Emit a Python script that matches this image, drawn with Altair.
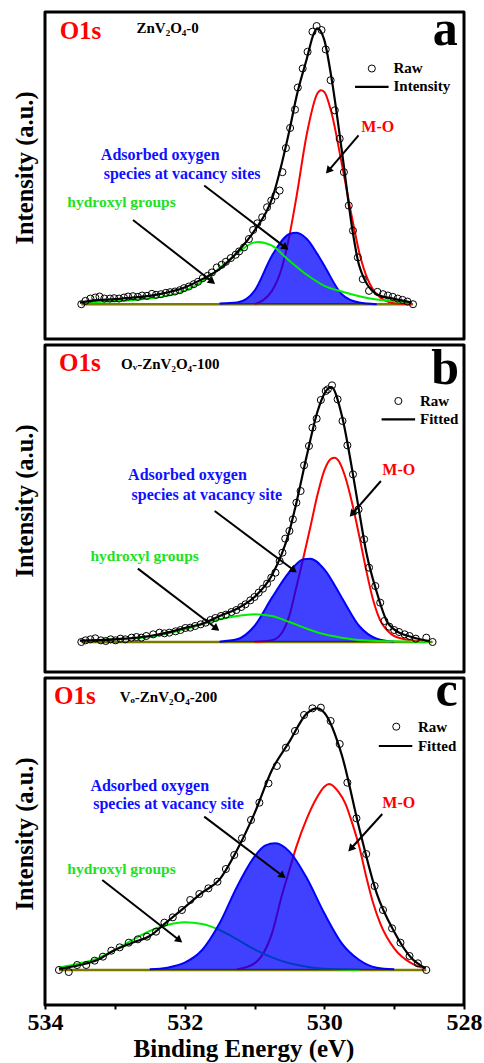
import math
import altair as alt
import pandas as pd

FONT = "Liberation Serif"
W, H = 419, 327

# ---------------- panel a : ZnV2O4-0 ----------------
raw_a_e = [533.48, 533.42, 533.35, 533.28, 533.22, 533.15, 533.07, 533.01, 532.94, 532.87,
           532.81, 532.74, 532.67, 532.61, 532.54, 532.47, 532.41, 532.34, 532.27, 532.21,
           532.14, 532.07, 532.01, 531.94, 531.87, 531.81, 531.74, 531.67, 531.61, 531.54,
           531.47, 531.41, 531.34, 531.27, 531.22, 531.15, 531.08, 531.02, 530.96, 530.89,
           530.82, 530.76, 530.70, 530.64, 530.60, 530.55, 530.49, 530.42, 530.38, 530.31,
           530.24, 530.17, 530.11, 530.04, 529.98, 529.91, 529.85, 529.78, 529.72, 529.65,
           529.59, 529.52, 529.45, 529.36, 529.24, 529.16, 529.09, 529.02, 528.95, 528.88,
           528.81, 528.73]
raw_a_i = [0, 10, 17, 20, 23, 17, 17, 18, 17, 20,
           23, 24, 22, 26, 25, 31, 28, 30, 34, 36,
           38, 42, 48, 53, 60, 67, 78, 85, 95, 110,
           118, 127, 138, 148, 158, 170, 195, 222, 242, 260,
           290, 310, 325, 340, 395, 467, 527, 582, 648, 705,
           755, 815, 832, 820, 762, 670, 580, 495, 395, 295,
           220, 140, 75, 40, 37, 30, 26, 22, 17, 13,
           8, 0]
fit_a_e = [533.5, 533.25, 533.0, 532.75, 532.5, 532.25, 532.0, 531.75, 531.5, 531.25, 531.0,
           530.75, 530.5, 530.4, 530.25, 530.15, 530.1, 530.0, 529.9, 529.75, 529.6, 529.5,
           529.25, 529.0, 528.75]
fit_a_i = [5, 12, 15, 20, 25, 35, 50, 75, 105, 155, 220,
           315, 520, 620, 735, 810, 825, 790, 680, 460, 225, 115,
           30, 16, 5]
mo_a_e = [531.0, 530.75, 530.6, 530.5, 530.4, 530.25, 530.1, 530.05, 530.0, 529.9, 529.75,
          529.6, 529.5, 529.25, 529.0, 528.75]
mo_a_i = [0, 40, 115, 205, 320, 510, 630, 640, 635, 575, 420, 255, 155, 30, 3, 0]
ads_a_e = [531.5, 531.25, 531.0, 530.75, 530.5, 530.4, 530.25, 530.1, 530.0, 529.75, 529.5, 529.25]
ads_a_i = [2, 5, 40, 145, 210, 214, 195, 150, 115, 30, 5, 0]
oh_a_e = [533.5, 533.25, 533.0, 532.75, 532.5, 532.25, 532.0, 531.75, 531.5, 531.25, 531.0,
          530.95, 530.75, 530.5, 530.25, 530.0, 529.75, 529.5, 529.25, 529.0, 528.75]
oh_a_i = [5, 7, 9, 12, 17, 25, 40, 68, 108, 152, 185, 186, 175, 130, 88, 55, 38, 24, 14, 9, 5]

# ---------------- panel b : Ov-ZnV2O4-100 ----------------
raw_b_e = [533.48, 533.42, 533.35, 533.28, 533.20, 533.13, 533.06, 532.99, 532.92, 532.85,
           532.76, 532.69, 532.62, 532.55, 532.45, 532.36, 532.29, 532.22, 532.13, 532.06,
           531.99, 531.92, 531.85, 531.77, 531.70, 531.63, 531.56, 531.48, 531.41, 531.33,
           531.26, 531.19, 531.13, 531.06, 531.00, 530.94, 530.88, 530.82, 530.76, 530.70,
           530.64, 530.60, 530.56, 530.50, 530.45, 530.40, 530.34, 530.29, 530.22, 530.17,
           530.11, 530.05, 529.98, 529.95, 529.89, 529.81, 529.74, 529.67, 529.59, 529.51,
           529.43, 529.36, 529.27, 529.20, 529.14, 529.07, 529.00, 528.93, 528.85, 528.78,
           528.69, 528.54, 528.45]
raw_b_i = [0, 5, 8, 11, 5, 3, 8, 5, 10, 8,
           13, 15, 13, 18, 23, 28, 26, 28, 32, 36,
           42, 43, 48, 53, 58, 66, 72, 78, 82, 90,
           96, 105, 113, 125, 135, 148, 160, 175, 193, 208,
           243, 268, 310, 333, 368, 418, 453, 530, 588, 643,
           670, 726, 753, 758, 770, 728, 663, 590, 503, 398,
           308, 223, 168, 118, 63, 46, 36, 30, 23, 18,
           10, 13, 0]
fit_b_e = [533.5, 533.0, 532.5, 532.25, 532.0, 531.75, 531.5, 531.25, 531.0, 530.75, 530.5,
           530.4, 530.25, 530.1, 530.0, 529.9, 529.75, 529.6, 529.5, 529.4, 529.25, 529.1,
           529.0, 528.75, 528.5]
fit_b_i = [4, 8, 18, 28, 42, 55, 78, 100, 135, 200, 333,
           418, 560, 690, 745, 765, 680, 515, 390, 270, 150, 60,
           38, 15, 3]
mo_b_e = [531.0, 530.75, 530.6, 530.5, 530.4, 530.3, 530.2, 530.1, 530.0, 529.9, 529.85,
          529.8, 529.7, 529.6, 529.5, 529.4, 529.3, 529.2, 529.1, 529.0, 528.75, 528.5]
mo_b_i = [0, 5, 30, 80, 165, 253, 345, 440, 515, 550, 553,
          545, 495, 415, 318, 215, 125, 65, 35, 18, 5, 1]
ads_b_e = [531.5, 531.25, 531.0, 530.75, 530.5, 530.3, 530.2, 530.0, 529.75, 529.5, 529.25, 529.0]
ads_b_i = [1, 8, 48, 133, 210, 248, 250, 218, 133, 48, 10, 1]
oh_b_e = [533.5, 533.0, 532.5, 532.0, 531.75, 531.5, 531.25, 531.0, 530.75, 530.5, 530.25,
          530.0, 529.75, 529.5, 529.0, 528.5]
oh_b_i = [3, 8, 15, 38, 53, 68, 78, 83, 78, 60, 40, 23, 13, 6, 2, 0]

# ---------------- panel c : Vo-ZnV2O4-200 ----------------
raw_c_e = [533.80, 533.66, 533.54, 533.41, 533.29, 533.17, 533.05, 532.93, 532.80, 532.67,
           532.54, 532.41, 532.29, 532.17, 532.04, 531.92, 531.79, 531.66, 531.53, 531.41,
           531.29, 531.18, 531.05, 530.93, 530.80, 530.68, 530.55, 530.42, 530.29, 530.17,
           530.05, 529.91, 529.78, 529.67, 529.54, 529.40, 529.28, 529.16, 529.03, 528.91,
           528.78, 528.66, 528.54]
raw_c_i = [0, -6, 15, 15, 28, 40, 58, 68, 82, 92,
           100, 115, 142, 158, 180, 210, 228, 245, 265, 303,
           345, 395, 450, 502, 560, 612, 667, 717, 765, 785,
           787, 747, 678, 562, 455, 348, 252, 180, 125, 82,
           42, 20, 0]
fit_c_e = [533.8, 533.5, 533.25, 533.0, 532.75, 532.5, 532.25, 532.0, 531.75, 531.5, 531.25,
           531.0, 530.75, 530.5, 530.25, 530.1, 530.0, 529.75, 529.5, 529.25, 529.0, 528.75,
           528.55]
fit_c_i = [3, 15, 30, 60, 82, 102, 145, 188, 232, 272, 360,
           470, 600, 685, 770, 785, 772, 645, 425, 230, 115, 35,
           5]
mo_c_e = [531.25, 531.0, 530.75, 530.6, 530.5, 530.4, 530.25, 530.1, 530.0, 529.93, 529.8,
          529.7, 529.6, 529.5, 529.4, 529.3, 529.2, 529.0, 528.75, 528.55]
mo_c_i = [2, 20, 110, 230, 300, 370, 455, 520, 550, 558, 535,
          500, 440, 370, 280, 200, 140, 65, 20, 5]
ads_c_e = [532.5, 532.25, 532.0, 531.75, 531.5, 531.25, 531.0, 530.85, 530.7, 530.5, 530.25,
           530.0, 529.75, 529.5, 529.25, 529.0]
ads_c_i = [2, 7, 22, 60, 140, 250, 340, 373, 380, 355, 275, 170, 80, 30, 7, 2]
oh_c_e = [533.8, 533.5, 533.25, 533.0, 532.75, 532.5, 532.25, 532.0, 531.75, 531.5, 531.25,
          531.0, 530.75, 530.5, 530.25, 530.0, 529.5]
oh_c_i = [7, 20, 35, 60, 90, 117, 135, 143, 138, 120, 92, 62, 38, 20, 10, 4, 1]

x_ticks = [534, 533, 532, 531, 530, 529, 528]

panels = [
    dict(raw=(raw_a_e, raw_a_i), fit=(fit_a_e, fit_a_i), mo=(mo_a_e, mo_a_i),
         ads=(ads_a_e, ads_a_i), oh=(oh_a_e, oh_a_i), dom=[-104, 874], green_on_top=True,
         base=(533.48, 528.73), letter=("a", 528.09, 775), name=("ZnV\u2082O\u2084-0", 532.69, 810),
         o1s=(533.79, 792), leg_pt=(529.32, 705), leg_txt1=(529.01, 706),
         leg_line=(529.56, 529.08, 650), leg_txt2=("Intensity", 529.01, 652),
         mo_lab=(529.47, 515), mo_arr=(529.51, 505, 529.98, 390),
         ads_lab=[("Adsorbed oxygen", 533.20, 432), ("species at vacancy sites", 533.16, 375)],
         ads_arr=(531.72, 355, 530.51, 162),
         oh_lab=(533.68, 290), oh_arr=(532.74, 252, 531.56, 60)),
    dict(raw=(raw_b_e, raw_b_i), fit=(fit_b_e, fit_b_i), mo=(mo_b_e, mo_b_i),
         ads=(ads_b_e, ads_b_i), oh=(oh_b_e, oh_b_i), dom=[-90, 891], green_on_top=True,
         base=(533.48, 528.45), letter=("b", 528.07, 773),
         name=("O\u1d65-ZnV\u2082O\u2084-100", 532.91, 818),
         o1s=(533.80, 813), leg_pt=(528.94, 723), leg_txt1=(528.63, 723),
         leg_line=(529.18, 528.70, 668), leg_txt2=("Fitted", 528.63, 668),
         mo_lab=(529.17, 501), mo_arr=(529.19, 483, 529.64, 375),
         ads_lab=[("Adsorbed oxygen", 532.81, 485), ("species at vacancy site", 532.76, 426)],
         ads_arr=(531.57, 393, 530.39, 208),
         oh_lab=(533.35, 243), oh_arr=(532.67, 220, 531.50, 33)),
    dict(raw=(raw_c_e, raw_c_i), fit=(fit_c_e, fit_c_i), mo=(mo_c_e, mo_c_i),
         ads=(ads_c_e, ads_c_i), oh=(oh_c_e, oh_c_i), dom=[-105, 876], green_on_top=False,
         base=(533.80, 528.54), letter=("c", 528.09, 792),
         name=("V\u2092-ZnV\u2082O\u2084-200", 532.93, 805),
         o1s=(533.87, 797), leg_pt=(528.97, 730), leg_txt1=(528.66, 730),
         leg_line=(529.22, 528.74, 672), leg_txt2=("Fitted", 528.66, 672),
         mo_lab=(529.17, 485), mo_arr=(529.17, 468, 529.66, 355),
         ads_lab=[("Adsorbed oxygen", 533.35, 538), ("species at vacancy site", 533.31, 482)],
         ads_arr=(531.72, 460, 530.55, 275),
         oh_lab=(533.68, 287), oh_arr=(533.18, 270, 532.03, 82)),
]

RED = "#ff0000"
BLUE = "#0000ff"
GREEN = "#00ee00"


def make_panel(p, bottom):
    dom = p["dom"]
    if bottom:
        xaxis = alt.Axis(values=x_ticks, labelExpr="datum.value % 2 == 0 ? datum.label : ''",
                         tickSize=4, tickWidth=2, tickColor="black", domain=False, grid=False,
                         labelFont=FONT, labelFontSize=24, labelFontWeight="bold", labelColor="black",
                         labelPadding=1, labelFlush=False, labelOverlap=False,
                         title="Binding Energy (eV)", titleFont=FONT, titleFontSize=25,
                         titleFontWeight="bold", titleColor="black", titlePadding=2, titleX=W / 2 - 11)
    else:
        xaxis = None
    yaxis = alt.Axis(title="Intensity (a.u.)", labels=False, ticks=False, domain=False, grid=False,
                     titleFont=FONT, titleFontSize=24.5, titleFontWeight="bold", titleColor="black",
                     titlePadding=8, titleY=H / 2 - 8)
    xs = alt.Scale(domain=[528, 534], reverse=True, nice=False, zero=False)
    ys = alt.Scale(domain=dom, nice=False, zero=False)

    def X(field="e"):
        return alt.X(f"{field}:Q", scale=xs, axis=xaxis)

    def Y(field="v"):
        return alt.Y(f"{field}:Q", scale=ys, axis=yaxis)

    def line(data, color, width=2):
        d = pd.DataFrame({"e": data[0], "v": data[1]})
        return alt.Chart(d).mark_line(color=color, strokeWidth=width, interpolate="monotone").encode(
            x=X(), y=Y())

    base_df = pd.DataFrame({"e": [p["base"][0]], "e2": [p["base"][1]], "v": [0]})
    base = alt.Chart(base_df).mark_rule(color="#7a7a00", strokeWidth=2.5).encode(
        x=X(), x2="e2:Q", y=Y())

    ads_df = pd.DataFrame({"e": p["ads"][0], "v": p["ads"][1]})
    ads_area = alt.Chart(ads_df).mark_area(color=BLUE, opacity=0.75, interpolate="monotone").encode(
        x=X(), y=Y(), y2=alt.datum(0))
    ads_line = line(p["ads"], BLUE)
    red_line = line(p["mo"], RED)
    green_line = line(p["oh"], GREEN)
    fit_line = line(p["fit"], "black", 2.2)

    raw_df = pd.DataFrame({"e": p["raw"][0], "v": p["raw"][1]})
    raw = alt.Chart(raw_df).mark_point(shape="circle", filled=False, color="black", size=50,
                                       strokeWidth=1, opacity=1).encode(x=X(), y=Y())

    def txt(rows, color, size, align="left", baseline="alphabetic"):
        d = pd.DataFrame(rows, columns=["t", "e", "v"])
        return alt.Chart(d).mark_text(font=FONT, fontWeight="bold", fontSize=size, color=color,
                                      align=align, baseline=baseline).encode(
            x=X(), y=Y(), text="t:N")

    span = dom[1] - dom[0]

    def arrow(a):
        e1, v1, e2, v2 = a
        dx = -(e2 - e1) * W / 6.0
        dy = -(v2 - v1) * H / span
        L = math.hypot(dx, dy)
        ang = (math.degrees(math.atan2(dx, -dy)) + 360) % 360
        f = 4.0 / L
        eh, vh = e2 - (e2 - e1) * f, v2 - (v2 - v1) * f
        sd = pd.DataFrame({"e": [e1], "v": [v1], "e2": [eh], "v2": [vh]})
        shaft = alt.Chart(sd).mark_rule(color="black", strokeWidth=2).encode(
            x=X(), y=Y(), x2="e2:Q", y2="v2:Q")
        hd = pd.DataFrame({"e": [eh], "v": [vh]})
        head = alt.Chart(hd).mark_point(shape="triangle-up", filled=True, color="black", size=70,
                                        angle=ang, opacity=1, strokeWidth=0).encode(x=X(), y=Y())
        return [shaft, head]

    leg_pt = alt.Chart(pd.DataFrame({"e": [p["leg_pt"][0]], "v": [p["leg_pt"][1]]})).mark_point(
        shape="circle", filled=False, color="black", size=50, strokeWidth=1, opacity=1).encode(x=X(), y=Y())
    ll = p["leg_line"]
    leg_line = alt.Chart(pd.DataFrame({"e": [ll[0]], "e2": [ll[1]], "v": [ll[2]]})).mark_rule(
        color="black", strokeWidth=2.2).encode(x=X(), x2="e2:Q", y=Y())

    layers = [base, red_line]
    if p["green_on_top"]:
        layers += [ads_area, ads_line, green_line]
    else:
        layers += [green_line, ads_area, ads_line]
    layers += [fit_line, raw, leg_pt, leg_line]
    layers += arrow(p["mo_arr"]) + arrow(p["ads_arr"]) + arrow(p["oh_arr"])
    layers += [
        txt([("O1s", p["o1s"][0], p["o1s"][1])], RED, 25),
        txt([(p["name"][0], p["name"][1], p["name"][2])], "black", 15),
        txt([(p["letter"][0], p["letter"][1], p["letter"][2])], "black", 50, align="right"),
        txt([("Raw", p["leg_txt1"][0], p["leg_txt1"][1]),
             (p["leg_txt2"][0], p["leg_txt2"][1], p["leg_txt2"][2])], "black", 15, baseline="middle"),
        txt([("M-O", p["mo_lab"][0], p["mo_lab"][1])], RED, 16),
        txt([(t, e, v) for (t, e, v) in p["ads_lab"]], "#1010ff", 16),
        txt([("hydroxyl groups", p["oh_lab"][0], p["oh_lab"][1])], "#22e022", 15.5),
    ]
    return alt.layer(*layers).properties(width=W, height=H)


chart = alt.vconcat(
    make_panel(panels[0], False),
    make_panel(panels[1], False),
    make_panel(panels[2], True),
    spacing=6,
    bounds="flush",
).properties(
    padding={"left": 10, "top": 3, "right": 0, "bottom": 0},
    background="white",
).configure_view(
    stroke="black", strokeWidth=3, strokeJoin="round"
)

chart.save("out.html", embed_options={"renderer": "svg", "actions": False})
